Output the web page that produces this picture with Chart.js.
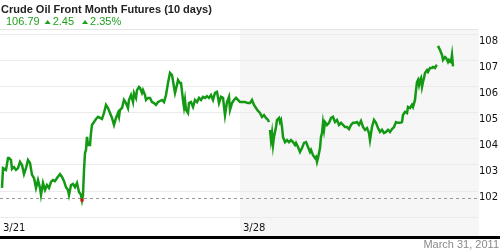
<!DOCTYPE html>
<html>
<head>
<meta charset="utf-8">
<script src="https://cdn.jsdelivr.net/npm/chart.js@4"></script>
<style>
  html, body { margin: 0; padding: 0; background: #fff; }
  #wrap { width: 500px; height: 250px; position: relative; }
</style>
</head>
<body>
<div id="wrap"><canvas id="oilChart" width="500" height="250"></canvas></div>
<script>
// Data //
const titleText = 'Crude Oil Front Month Futures (10 days)';
const lastPrice = '106.79';
const netChange = '2.45';
const pctChange = '2.35%';
const asOfDate = 'March 31, 2011';

// week labels and where each week starts on the time axis
const weekLabels = ['3/21', '3/28'];
const weekStarts = [0, 240];
const sessionEnd = 478;

// price ticks on the right
const priceTicks = [101, 102, 103, 104, 105, 106, 107, 108];

// time index and price (null = break in trading)
const t = [2, 3, 4, 6, 8, 9, 11, 12, 14, 16, 18, 20, 22, 24, 26, 28, 30, 32, 34, 36, 38, 40, 41, 43, 45, 47, 49, 51, 53, 55, 57, 60, 62, 64, 66, 68, 69, 71, 73, 75, 77, 79, 81, 82, 83, 84, 85, 86, 87, 88, 90, 91, 92, 94, 96, 98, 100, 102, 104, 106, 108, 110, 112, 114, 116, 118, 119, 120, 122, 124, 126, 128, 129, 131, 133, 134, 136, 137, 139, 140, 142, 143, 145, 146, 148, 150, 152, 154, 156, 158, 160, 162, 164, 166, 168, 170, 172, 174, 175, 177, 178, 180, 181, 183, 184, 185, 186, 188, 189, 191, 193, 195, 197, 199, 201, 203, 205, 207, 209, 211, 213, 215, 217, 219, 221, 223, 225, 227, 229, 230, 232, 234, 236, 238, 240, 242, 245, 248, 250, 252, 254, 256, 258, 260, 262, 264, 266, 268, 269, 269.5, 270, 271, 272, 273, 274, 276, 277, 279, 280, 281, 282, 283, 285, 287, 289, 291, 293, 295, 296, 298, 300, 302, 304, 306, 308, 310, 311, 313, 315, 316, 317, 318, 320, 321, 322, 323, 324, 325, 327, 329, 331, 333, 335, 337, 339, 341, 343, 345, 347, 349, 351, 353, 355, 357, 359, 361, 363, 365, 367, 369, 370, 372, 374, 376, 378, 380, 382, 384, 386, 388, 390, 392, 394, 396, 398, 400, 402, 403, 405, 407, 408, 410, 412, 413, 415, 416, 417, 418, 419, 420, 421, 422, 423, 424, 425, 427, 428, 430, 432, 433, 435, 436, 437, 437.5, 438, 440, 442, 443, 445, 446, 448, 449, 451, 452, 453];
const prices = [102.12, 102.88, 102.88, 102.81, 103.27, 103.27, 103.19, 102.85, 102.92, 102.81, 102.88, 103.12, 103.00, 102.65, 102.88, 103.19, 103.08, 102.62, 102.50, 102.12, 102.42, 102.12, 101.85, 102.31, 102.04, 102.23, 102.12, 102.35, 102.42, 102.38, 102.50, 102.65, 102.54, 102.38, 102.15, 102.04, 101.85, 102.23, 102.27, 102.15, 102.31, 101.96, 101.85, 101.65, 101.85, 102.81, 103.46, 103.58, 104.08, 103.77, 103.77, 104.23, 104.54, 104.65, 104.77, 104.85, 104.81, 104.77, 105.00, 105.31, 105.19, 105.00, 104.81, 104.54, 104.81, 105.00, 104.85, 105.12, 105.19, 105.50, 105.38, 105.19, 105.50, 105.69, 105.42, 105.77, 105.58, 105.88, 106.00, 105.96, 105.77, 105.88, 105.69, 105.50, 105.58, 105.58, 105.42, 105.38, 105.31, 105.42, 105.46, 105.50, 105.42, 105.69, 106.15, 106.54, 106.46, 106.00, 105.77, 106.08, 106.27, 106.15, 106.15, 105.50, 105.23, 105.50, 105.12, 105.00, 105.38, 105.42, 105.23, 105.50, 105.42, 105.58, 105.50, 105.62, 105.58, 105.65, 105.58, 105.69, 105.50, 105.77, 105.81, 105.38, 105.62, 105.58, 104.92, 105.42, 105.62, 105.12, 105.38, 105.50, 105.58, 105.50, 105.42, 105.42, 105.42, 105.38, 105.38, 105.50, 105.31, 105.19, 105.08, 105.00, 104.85, 104.92, 104.81, 104.73, 104.65, null, 104.35, 103.96, 104.23, 103.77, 104.08, 104.46, 104.73, 104.81, 104.65, 104.73, 104.46, 104.08, 103.88, 103.96, 103.88, 103.96, 103.88, 103.77, 103.85, 103.69, 103.50, 103.65, 103.85, 103.88, 103.69, 103.50, 103.58, 103.38, 103.27, 103.31, 103.12, 103.27, 103.65, 104.08, 104.23, 104.62, 104.35, 104.65, 104.54, 104.62, 104.81, 104.85, 104.65, 104.73, 104.54, 104.62, 104.54, 104.46, 104.46, 104.38, 104.54, 104.62, 104.62, 104.65, 104.54, 104.69, 104.46, 104.35, 104.42, 104.23, 103.96, 104.46, 104.73, 104.62, 104.42, 104.27, 104.35, 104.23, 104.27, 104.35, 104.27, 104.38, 104.46, 104.65, 104.62, 104.62, 104.65, 104.92, 105.04, 105.00, 105.23, 105.19, 105.31, 105.23, 105.50, 105.88, 106.19, 106.27, 106.08, 106.27, 106.35, 106.00, 106.19, 106.35, 106.54, 106.65, 106.58, 106.73, 106.73, 106.77, 106.73, 106.81, 106.85, null, 107.58, 107.42, 107.23, 107.04, 107.15, 107.12, 106.96, 107.04, 106.96, 107.23, 106.79];

// lowest point gets the red marker and the dashed line
let lowIdx = 0;
prices.forEach((p, i) => { if (p !== null && p < prices[lowIdx]) lowIdx = i; });

const points = t.map((x, i) => ({ x: x, y: prices[i] }));

// Plugin gambar latar, teks dan garis tambahan
const decor = {
    id: 'decor',
    beforeDraw(chart) {
        const c = chart.ctx, a = chart.chartArea, xs = chart.scales.x;
        c.save();
        c.fillStyle = '#fff';
        c.fillRect(0, 0, chart.width, chart.height);
        // shaded second week
        const sx = xs.getPixelForValue(weekStarts[1]);
        c.fillStyle = '#f6f6f6';
        c.fillRect(sx, a.top, a.right - sx + 1, a.bottom - a.top);
        // top border
        c.fillStyle = '#e4e4e4';
        c.fillRect(0, a.top - 1, a.right, 1);
        c.restore();
    },
    beforeDatasetsDraw(chart) {
        const c = chart.ctx, a = chart.chartArea, ys = chart.scales.y;
        const yLow = Math.round(ys.getPixelForValue(prices[lowIdx])) - 1.5;
        c.save();
        c.strokeStyle = '#999';
        c.lineWidth = 1;
        c.setLineDash([3, 3]);
        c.beginPath();
        c.moveTo(0, yLow);
        c.lineTo(a.right, yLow);
        c.stroke();
        c.restore();
    },
    afterDraw(chart) {
        const c = chart.ctx, a = chart.chartArea, xs = chart.scales.x;
        c.save();
        c.textBaseline = 'middle';
        // title
        c.fillStyle = '#222';
        c.font = 'bold 11px "Liberation Sans", Arial, sans-serif';
        c.fillText(titleText, 1, 10);
        // quote line
        c.fillStyle = '#1f9f1f';
        c.font = '11px "Liberation Sans", Arial, sans-serif';
        let x = 6;
        const tri = (px) => {
            c.beginPath();
            c.moveTo(px, 24);
            c.lineTo(px + 6, 24);
            c.lineTo(px + 3, 20);
            c.closePath();
            c.fill();
        };
        c.fillText(lastPrice, x, 22);
        x += c.measureText(lastPrice).width + 5;
        tri(x); x += 8;
        c.fillText(netChange, x, 22);
        x += c.measureText(netChange).width + 8;
        tri(x); x += 8;
        c.fillText(pctChange, x, 22);
        // week labels
        c.fillStyle = '#111';
        c.font = '10px "DejaVu Sans", Verdana, sans-serif';
        weekLabels.forEach((lab, i) => {
            c.fillText(lab, xs.getPixelForValue(weekStarts[i]) + 3, 228);
        });
        // bottom black rule
        c.fillStyle = '#000';
        c.fillRect(0, a.bottom, chart.width, 3);
        // date
        c.fillStyle = '#8a8a8a';
        c.font = '11px "Liberation Sans", Arial, sans-serif';
        c.textAlign = 'right';
        c.fillText(asOfDate, 499, 245);
        c.restore();
    }
};

const ctx = document.getElementById('oilChart').getContext('2d');
new Chart(ctx, {
    type: 'line',
    data: {
        datasets: [{
            label: 'Crude Oil',
            data: points,
            borderColor: '#139913',
            borderWidth: 2.5,
            tension: 0,
            spanGaps: false,
            fill: false,
            pointStyle: 'rect',
            pointRadius: ctx => ctx.dataIndex === lowIdx ? 2.2 : 0,
            pointBackgroundColor: '#e01010',
            pointBorderWidth: 0,
            pointBorderColor: '#e01010'
        }]
    },
    options: {
        responsive: false,
        animation: false,
        events: [],
        layout: { padding: { top: 30, bottom: 14, left: 0, right: 0 } },
        plugins: {
            legend: { display: false },
            title: { display: false },
            tooltip: { enabled: false }
        },
        scales: {
            x: {
                type: 'linear',
                display: false,
                min: 0,
                max: sessionEnd
            },
            y: {
                position: 'right',
                min: 100.27,
                max: 108.19,
                afterBuildTicks: scale => { scale.ticks = priceTicks.map(v => ({ value: v })); },
                afterFit: scale => { scale.width = 22; },
                border: { display: false },
                grid: { color: '#ebebeb', drawTicks: false, lineWidth: 1 },
                ticks: {
                    padding: 1,
                    labelOffset: 6,
                    color: '#111',
                    font: { family: '"DejaVu Sans", Verdana, sans-serif', size: 10 },
                    callback: v => v === priceTicks[0] ? '' : String(v)
                }
            }
        }
    },
    plugins: [decor]
});
</script>
</body>
</html>
